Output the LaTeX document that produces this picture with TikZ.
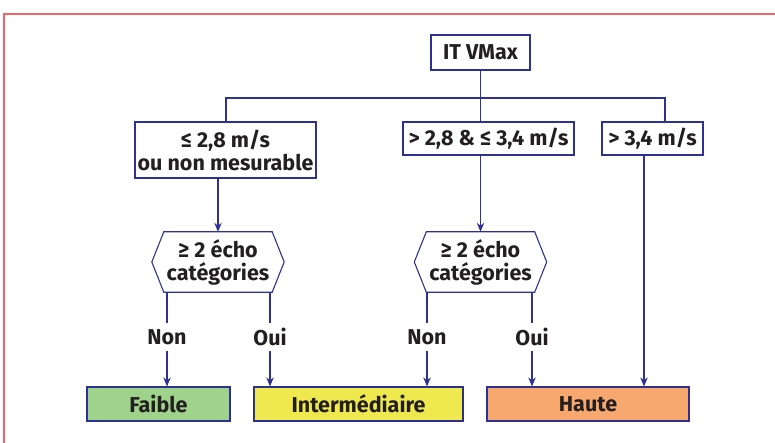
\documentclass[tikz,border=0pt]{standalone}
\usepackage{fontspec}
\setmainfont{Fira Sans}
\usetikzlibrary{arrows.meta}
\definecolor{lineblue}{HTML}{2E3192}
\definecolor{txt}{HTML}{231F20}
\definecolor{frame}{HTML}{F0616A}
\definecolor{cfaible}{HTML}{9FD28B}
\definecolor{cinter}{HTML}{EFE94F}
\definecolor{chaute}{HTML}{F7A86E}
\begin{document}
\begin{tikzpicture}[x=1pt,y=-1pt,
  every node/.style={font=\fontsize{21.5}{23}\selectfont\bfseries, text=txt, align=center, inner sep=0pt},
  box/.style={draw=lineblue, line width=1.1pt},
  hexbox/.style={minimum width=108pt, minimum height=60pt},
  lbl/.style={minimum height=28pt},
  conn/.style={draw=lineblue, line width=1.2pt},
  arr/.style={conn, -{Stealth[length=9pt,width=7.5pt]}}
]
\useasboundingbox (0,0) rectangle (775,443);
% frame
\draw[frame, line width=1.4pt] (4,443) -- (4,14) -- (775,14);

% top
\node[box, minimum width=99pt, minimum height=35pt] (top) at (480.5,52.5) {IT VMax};
% level 1
\node[box, minimum width=181pt, minimum height=56pt] (b1) at (225.5,150) {≤ 2,8 m/s\\ou non mesurable};
\node[box, minimum width=171pt, minimum height=33pt] (b2) at (488.5,138.5) {> 2,8 \& ≤ 3,4 m/s};
\node[box, minimum width=101pt, minimum height=33pt] (b3) at (652.5,138.5) {> 3,4 m/s};
\coordinate (j1) at (226,98);
\coordinate (j3) at (665,98);
\draw[conn] (top.south) -- (top.south |- j1);
\draw[conn] (b1.north -| j1) -- (j1) -- (j3) -- (b3.north -| j3);
\draw[conn] (top.south |- j1) -- (top.south |- b2.north);

% hexagons
\node[hexbox] (h1) at (218,262) {≥ 2 écho\\catégories};
\node[hexbox] (h2) at (480.5,262) {≥ 2 écho\\catégories};
\foreach \h in {h1,h2}{
  \draw[box, line join=miter] (\h.north west) -- (\h.north east) -- ([xshift=12pt]\h.east)
    -- (\h.south east) -- (\h.south west) -- ([xshift=-12pt]\h.west) -- cycle;
}

% bottom boxes
\node[box, fill=cfaible, minimum width=143pt, minimum height=34pt] (faible) at (158.5,404) {Faible};
\node[box, fill=cinter, minimum width=209pt, minimum height=34pt] (inter) at (358.5,404) {Intermédiaire};
\node[box, fill=chaute, minimum width=202pt, minimum height=34pt] (haute) at (588,404) {Haute};

% arrows from level 1
\draw[arr] (b1.south -| h1.north) -- (h1.north);
\draw[arr] (b2.south -| h2.north) -- (h2.north);
\draw[arr] ([xshift=-8.5pt]b3.south) -- ([xshift=-8.5pt]b3.south |- haute.north);

% labels
\node[lbl] (n1) at (167,337) {Non};
\node[lbl] (o1) at (270,337) {Oui};
\node[lbl] (n2) at (427,337) {Non};
\node[lbl] (o2) at (532,337) {Oui};
\draw[conn] (n1 |- h1.south) -- (n1);
\draw[conn] (o1 |- h1.south) -- (o1);
\draw[conn] (n2 |- h2.south) -- (n2);
\draw[conn] (o2 |- h2.south) -- (o2);
\draw[arr] (n1) -- (n1 |- faible.north);
\draw[arr] (o1) -- (o1 |- inter.north);
\draw[arr] (n2) -- (n2 |- inter.north);
\draw[arr] (o2) -- (o2 |- haute.north);
\end{tikzpicture}
\end{document}
